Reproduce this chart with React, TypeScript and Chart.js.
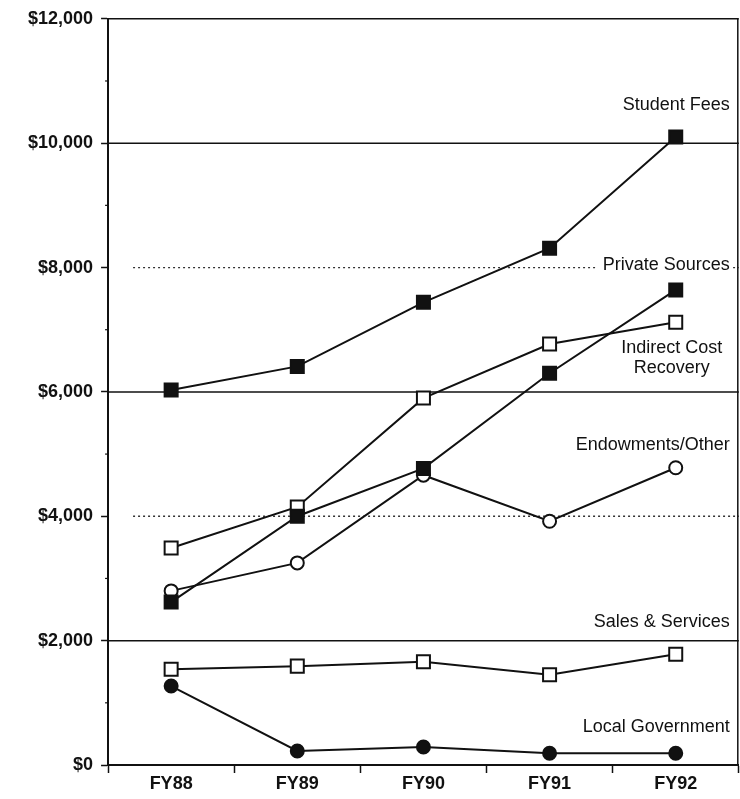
import React, { useEffect, useRef } from "react";
import { Chart, registerables } from "chart.js";

Chart.register(...registerables);

const categories = ["FY88", "FY89", "FY90", "FY91", "FY92"];
const studentFees = [6030, 6410, 7440, 8310, 10100];
const privateSources = [2620, 4000, 4770, 6300, 7640];
const indirectCostRecovery = [3490, 4150, 5900, 6770, 7120];
const endowmentsOther = [2800, 3250, 4660, 3920, 4780];
const salesServices = [1540, 1590, 1660, 1450, 1780];
const localGovernment = [1270, 225, 290, 190, 190];

const yTickLabels = ["$0", "$2,000", "$4,000", "$6,000", "$8,000", "$10,000", "$12,000"];
const solidGridValues = [2000, 6000, 10000, 12000];
const dottedGridValues = [4000, 8000];
const minorTickValues = [1000, 3000, 5000, 7000, 9000, 11000];

const seriesNames = [
  "Student Fees",
  "Private Sources",
  "Indirect Cost Recovery",
  "Endowments/Other",
  "Sales & Services",
  "Local Government",
];

// label anchors (in data units) for the in-chart series names
const labelConfig = [
  { lines: ["Student Fees"], value: 10610, align: "right", bg: false },
  { lines: ["Private Sources"], value: 8040, align: "right", bg: true },
  { lines: ["Indirect Cost", "Recovery"], value: 6540, align: "center", bg: false },
  { lines: ["Endowments/Other"], value: 5140, align: "right", bg: false },
  { lines: ["Sales & Services"], value: 2300, align: "right", bg: false },
  { lines: ["Local Government"], value: 610, align: "right", bg: false },
];

const INK = "#111";
const FONT = "'Liberation Sans', Arial, Helvetica, sans-serif";

const decorPlugin = {
  id: "decor",
  beforeDatasetsDraw(chart: any) {
    const { ctx, chartArea, scales } = chart;
    const y = scales.y;
    ctx.save();
    ctx.strokeStyle = INK;
    ctx.lineWidth = 1.5;
    solidGridValues.forEach((v) => {
      const py = y.getPixelForValue(v);
      ctx.beginPath();
      ctx.moveTo(chartArea.left, py);
      ctx.lineTo(chartArea.right, py);
      ctx.stroke();
    });
    ctx.strokeStyle = "#333";
    ctx.lineWidth = 1.3;
    ctx.setLineDash([2, 3]);
    dottedGridValues.forEach((v) => {
      const py = y.getPixelForValue(v);
      ctx.beginPath();
      ctx.moveTo(chartArea.left + 25, py);
      ctx.lineTo(chartArea.right, py);
      ctx.stroke();
    });
    ctx.setLineDash([]);
    // minor ticks
    ctx.strokeStyle = INK;
    ctx.lineWidth = 1.2;
    minorTickValues.forEach((v) => {
      const py = y.getPixelForValue(v);
      ctx.beginPath();
      ctx.moveTo(chartArea.left - 3, py);
      ctx.lineTo(chartArea.left, py);
      ctx.stroke();
    });
    // right frame
    ctx.lineWidth = 1.5;
    ctx.beginPath();
    ctx.moveTo(chartArea.right - 1, chartArea.top);
    ctx.lineTo(chartArea.right - 1, chartArea.bottom);
    ctx.stroke();
    ctx.restore();
  },
  afterDatasetsDraw(chart: any) {
    const { ctx, chartArea, scales } = chart;
    const y = scales.y;
    ctx.save();
    ctx.font = `18px ${FONT}`;
    ctx.fillStyle = INK;
    ctx.textBaseline = "middle";
    const rightX = chartArea.right - 9;
    labelConfig.forEach((lab) => {
      const cy = y.getPixelForValue(lab.value);
      const lh = 20;
      const startY = cy - ((lab.lines.length - 1) * lh) / 2;
      lab.lines.forEach((line, i) => {
        const w = ctx.measureText(line).width;
        const ly = startY + i * lh;
        let x0: number;
        if (lab.align === "center") {
          x0 = rightX - 58 - w / 2;
        } else {
          x0 = rightX - w;
        }
        if (lab.bg) {
          ctx.fillStyle = "#fff";
          ctx.fillRect(x0 - 5, ly - 10, w + 8, 20);
          ctx.fillStyle = INK;
        }
        ctx.textAlign = "left";
        ctx.fillText(line, x0, ly);
      });
    });
    ctx.restore();
  },
};

function makeDataset(label: string, data: number[], style: string, filled: boolean) {
  return {
    label,
    data,
    borderColor: INK,
    borderWidth: 2,
    pointStyle: style,
    pointRadius: style === "rect" ? 9.2 : 6.5,
    pointBackgroundColor: filled ? INK : "#fff",
    pointBorderColor: INK,
    pointBorderWidth: 2,
    fill: false,
    tension: 0,
  };
}

export default function App() {
  const canvasRef = useRef<HTMLCanvasElement | null>(null);

  useEffect(() => {
    const canvas = canvasRef.current;
    if (!canvas) return;
    const chart = new Chart(canvas, {
      type: "line",
      data: {
        labels: categories,
        datasets: [
          makeDataset(seriesNames[0], studentFees, "rect", true),
          makeDataset(seriesNames[1], privateSources, "rect", true),
          makeDataset(seriesNames[2], indirectCostRecovery, "rect", false),
          makeDataset(seriesNames[3], endowmentsOther, "circle", false),
          makeDataset(seriesNames[4], salesServices, "rect", false),
          makeDataset(seriesNames[5], localGovernment, "circle", true),
        ],
      },
      options: {
        responsive: false,
        animation: false,
        layout: { padding: { left: 20, right: 0, top: 8, bottom: 4 } },
        plugins: {
          legend: { display: false },
          tooltip: { enabled: false },
          title: { display: false },
        },
        scales: {
          x: {
            type: "category",
            offset: true,
            grid: {
              offset: true,
              drawOnChartArea: false,
              drawTicks: true,
              tickLength: 8,
              tickColor: INK,
              tickWidth: 1.5,
            },
            border: { color: INK, width: 2 },
            ticks: {
              color: INK,
              padding: 2,
              font: { family: FONT, size: 18, weight: "bold", lineHeight: 1 },
            },
          },
          y: {
            min: 0,
            max: 12000,
            ticks: {
              stepSize: 2000,
              color: INK,
              padding: 8,
              font: { family: FONT, size: 18, weight: "bold" },
              callback: (_v: any, i: number) => yTickLabels[i],
            },
            grid: {
              drawOnChartArea: false,
              drawTicks: true,
              tickLength: 7,
              tickColor: INK,
              tickWidth: 1.5,
            },
            border: { color: INK, width: 2 },
          },
        },
      },
      plugins: [decorPlugin],
    } as any);
    return () => chart.destroy();
  }, []);

  return (
    <div
      style={{
        position: "fixed",
        left: 0,
        top: 0,
        width: 740,
        height: 799,
        overflow: "hidden",
        background: "#fff",
      }}
    >
      <canvas ref={canvasRef} width={750} height={799} style={{ display: "block" }} />
    </div>
  );
}
